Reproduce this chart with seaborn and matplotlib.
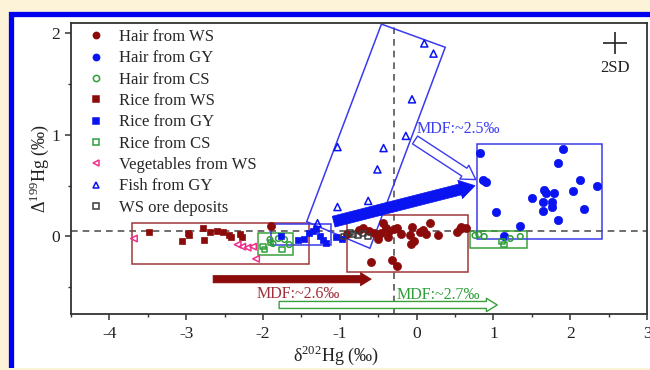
import numpy as np
import pandas as pd
import matplotlib
matplotlib.use('Agg')
import matplotlib.pyplot as plt
import seaborn as sns
from matplotlib.patches import Rectangle, Polygon, FancyArrowPatch
from matplotlib.lines import Line2D
from matplotlib.ticker import MultipleLocator

# ---------------- data ----------------
hair_ws_x = [-1.90, -0.90, -0.75, -0.70, -0.62, -0.55, -0.50, -0.47, -0.44, -0.40, -0.37,
             -0.36, -0.30, -0.26, -0.20, -0.09, -0.07, -0.06, -0.03, 0.04, 0.08, 0.12,
             0.18, 0.28, 0.52, 0.56, 0.58, 0.64, -0.59, -0.32, -0.26]
hair_ws_y = [0.10, 0.02, 0.06, 0.08, 0.05, 0.03, -0.02, 0.03, 0.13, 0.08, -0.01,
             0.05, 0.07, 0.08, 0.02, 0.01, -0.07, 0.09, -0.04, 0.04, 0.06, 0.02,
             0.13, 0.01, 0.04, 0.07, 0.09, 0.08, -0.25, -0.23, -0.29]

hair_gy_x = [0.82, 0.86, 0.90, 1.03, 1.14, 1.35, 1.50, 1.64, 1.65, 1.66, 1.69, 1.76,
             1.76, 1.79, 1.84, 1.84, 1.90, 2.03, 2.13, 2.18, 2.35]
hair_gy_y = [0.82, 0.56, 0.54, 0.24, 0.00, 0.10, 0.38, 0.25, 0.34, 0.46, 0.43, 0.34,
             0.29, 0.43, 0.16, 0.72, 0.86, 0.45, 0.56, 0.27, 0.50]

hair_cs_x = [-1.91, -1.87, -1.80, -1.72, -1.66, 0.76, 0.81, 0.88, 1.22, 1.35]
hair_cs_y = [-0.03, -0.07, -0.02, -0.03, -0.08, 0.01, 0.02, 0.00, -0.02, 0.00]

rice_ws_x = [-3.49, -3.05, -2.98, -2.96, -2.78, -2.77, -2.69, -2.60, -2.52, -2.44,
             -2.42, -2.30, -2.27]
rice_ws_y = [0.04, -0.04, 0.03, 0.01, 0.08, -0.03, 0.04, 0.05, 0.04, 0.01,
             -0.01, 0.02, -0.01]

rice_gy_x = [-1.76, -1.55, -1.47, -1.40, -1.35, -1.31, -1.26, -1.22, -1.18, -1.05, -0.97]
rice_gy_y = [0.00, -0.03, -0.02, 0.03, 0.05, 0.07, 0.00, -0.03, -0.06, -0.01, -0.02]

rice_cs_x = [-2.00, -1.98, -1.90, -1.75, 1.11, 1.14]
rice_cs_y = [-0.10, -0.13, -0.06, -0.13, -0.05, -0.08]

veg_ws_x = [-3.68, -2.33, -2.27, -2.20, -2.13, -2.09]
veg_ws_y = [-0.02, -0.08, -0.10, -0.11, -0.10, -0.22]

fish_gy_x = [0.10, 0.22, -0.06, -0.14, -1.03, -0.43, -0.51, -0.63, -1.03, -1.29]
fish_gy_y = [1.90, 1.80, 1.35, 0.99, 0.88, 0.87, 0.66, 0.35, 0.29, 0.13]

ore_ws_x = [-0.95, -0.87, -0.83, -0.76, -0.70, -0.63]
ore_ws_y = [0.00, 0.04, 0.02, 0.01, 0.03, 0.00]

group_labels = ["Hair from WS", "Hair from GY", "Hair from CS", "Rice from WS",
                "Rice from GY", "Rice from CS", "Vegetables from WS", "Fish from GY",
                "WS ore deposits"]

# annotation boxes: (x0, x1, y0, y1)
box_red_1 = (-3.71, -1.40, -0.27, 0.13)
box_red_2 = (-0.90, 0.67, -0.35, 0.21)
box_green_1 = (-2.06, -1.61, -0.18, 0.03)
box_green_2 = (0.70, 1.44, -0.11, 0.05)
box_blue_1 = (-1.90, -1.12, -0.08, 0.12)
box_blue_2 = (0.78, 2.41, -0.02, 0.91)
fish_box_x = [-0.458, 0.373, -0.608, -1.431]
fish_box_y = [2.09, 1.862, -0.116, 0.146]

ref_h = 0.05
ref_v = -0.29
sd_x, sd_y, sd_dx, sd_dy = 2.58, 1.905, 0.155, 0.11

# ---------------- style ----------------
sns.set_style('ticks')
plt.rcParams['font.family'] = ['Liberation Serif', 'DejaVu Serif']
plt.rcParams['mathtext.fontset'] = 'custom'
plt.rcParams['mathtext.rm'] = 'Liberation Serif'
plt.rcParams['axes.unicode_minus'] = False

DRED = '#8B0A0A'
BLUE = '#0A14F0'
GREEN = '#2E9E3A'
PINK = '#F0308C'
GRAY = '#3A3A3A'
BOXRED = '#A0383A'
BOXBLUE = '#3A3AEE'
BOXGREEN = '#3AA03A'

fig = plt.figure(figsize=(6.5, 3.7), dpi=100, facecolor='#FDF3D8')
frame = Rectangle((11 / 650, -0.2), 1.2, 0.2 + (370 - 13.5) / 370,
                  transform=fig.transFigure, facecolor='white',
                  edgecolor='#0000F0', lw=3.8, zorder=-2)
fig.add_artist(frame)
fig.add_artist(Rectangle((0, 0), 1, 2 / 370, transform=fig.transFigure,
                         facecolor='#FDF3D8', edgecolor='none', zorder=-1))

ax = fig.add_axes([71 / 650, 56 / 370, 576 / 650, 291.3 / 370])
ax.set_facecolor('none')

xs = [hair_ws_x, hair_gy_x, hair_cs_x, rice_ws_x, rice_gy_x, rice_cs_x, veg_ws_x, fish_gy_x, ore_ws_x]
ys = [hair_ws_y, hair_gy_y, hair_cs_y, rice_ws_y, rice_gy_y, rice_cs_y, veg_ws_y, fish_gy_y, ore_ws_y]
df = pd.concat([pd.DataFrame({'x': x, 'y': y, 'group': g})
                for x, y, g in zip(xs, ys, group_labels)], ignore_index=True)

styles = {
    "Hair from WS": dict(marker='o', color=DRED, filled=True, s=34),
    "Hair from GY": dict(marker='o', color=BLUE, filled=True, s=36),
    "Hair from CS": dict(marker='o', color=GREEN, filled=False, s=16),
    "Rice from WS": dict(marker='s', color=DRED, filled=True, s=24),
    "Rice from GY": dict(marker='s', color=BLUE, filled=True, s=24),
    "Rice from CS": dict(marker='s', color=GREEN, filled=False, s=16),
    "Vegetables from WS": dict(marker='<', color=PINK, filled=False, s=22),
    "Fish from GY": dict(marker='^', color=BLUE, filled=False, s=26),
    "WS ore deposits": dict(marker='s', color=GRAY, filled=False, s=16),
}

# boxes
for (x0, x1, y0, y1), c in [(box_red_1, BOXRED), (box_red_2, BOXRED),
                            (box_green_1, BOXGREEN), (box_green_2, BOXGREEN),
                            (box_blue_1, BOXBLUE), (box_blue_2, BOXBLUE)]:
    ax.add_patch(Rectangle((x0, y0), x1 - x0, y1 - y0, fill=False, ec=c, lw=1.1, zorder=2))
ax.add_patch(Polygon(list(zip(fish_box_x, fish_box_y)), closed=True, fill=False,
                     ec=BOXBLUE, lw=1.1, zorder=2))

ax.axhline(ref_h, ls=(0, (4, 3)), color='#555555', lw=1.2, zorder=1)
ax.axvline(ref_v, ls=(0, (4, 3)), color='#555555', lw=1.2, zorder=1)

for g in group_labels:
    st = styles[g]
    sub = df[df['group'] == g]
    sns.scatterplot(data=sub, x='x', y='y', marker=st['marker'], s=st['s'],
                    color=st['color'], ax=ax, legend=False, zorder=4, linewidth=0)
    coll = ax.collections[-1]
    if st['filled']:
        coll.set_facecolor(st['color'])
        coll.set_edgecolor(st['color'])
        coll.set_linewidth(0.5)
    else:
        coll.set_facecolor('none')
        coll.set_edgecolor(st['color'])
        coll.set_linewidth(1.1)

# arrows
ax.add_patch(FancyArrowPatch((-1.08, 0.146), (0.76, 0.50),
                             arrowstyle='simple,tail_width=0.4,head_width=0.68,head_length=0.55',
                             mutation_scale=20, fc=BLUE, ec=BLUE, lw=0.5,
                             shrinkA=0, shrinkB=0, zorder=5))
ax.add_patch(FancyArrowPatch((-0.02, 0.95), (0.77, 0.56),
                             arrowstyle='simple,tail_width=0.48,head_width=0.85,head_length=0.7',
                             mutation_scale=14, fc='white', ec=BOXBLUE, lw=1.0,
                             shrinkA=0, shrinkB=0, zorder=5))
ax.add_patch(FancyArrowPatch((-2.65, -0.42), (-0.59, -0.42),
                             arrowstyle='simple,tail_width=0.45,head_width=0.8,head_length=0.65',
                             mutation_scale=12, fc=DRED, ec=DRED, lw=0.5,
                             shrinkA=0, shrinkB=0, zorder=5))
ax.add_patch(FancyArrowPatch((-1.79, -0.674), (1.05, -0.674),
                             arrowstyle='simple,tail_width=0.42,head_width=0.8,head_length=0.65',
                             mutation_scale=12, fc='white', ec=BOXGREEN, lw=1.0,
                             shrinkA=0, shrinkB=0, zorder=5))

ax.text(0.0, 1.06, 'MDF:~2.5‰', color='#3C3CF0', fontsize=11.5, ha='left', va='center', zorder=6)
ax.text(-2.08, -0.57, 'MDF:~2.6‰', color='#A0303A', fontsize=11.5, ha='left', va='center', zorder=6)
ax.text(-0.26, -0.575, 'MDF:~2.7‰', color='#2E9E3A', fontsize=11.5, ha='left', va='center', zorder=6)

# 2SD cross
ax.errorbar([sd_x], [sd_y], xerr=[sd_dx], yerr=[sd_dy], fmt='none', ecolor='#222222',
            elinewidth=1.2, capsize=0, zorder=6)
ax.text(sd_x, 1.66, '2SD', fontsize=12, ha='center', va='center', color='#222222')

ax.set_xlim(-4.5, 3.0)
ax.set_ylim(-0.763, 2.104)
ax.xaxis.set_major_locator(MultipleLocator(1))
ax.xaxis.set_minor_locator(MultipleLocator(0.5))
ax.yaxis.set_major_locator(MultipleLocator(1))
ax.yaxis.set_minor_locator(MultipleLocator(0.5))
ax.tick_params(which='major', direction='out', length=4, width=1.1, color='#333333',
               labelsize=12.5, labelcolor='#222222', pad=4)
ax.tick_params(axis='x', which='major', pad=5)
ax.tick_params(which='minor', direction='out', length=2.5, width=1.0, color='#333333')
for sp in ax.spines.values():
    sp.set_visible(True)
    sp.set_color('#333333')
    sp.set_linewidth(1.3)

ax.set_xlabel('δ$^{202}$Hg (‰)', fontsize=13, color='#222222')
ax.set_ylabel('Δ$^{199}$Hg (‰)', fontsize=13, color='#222222', labelpad=0)
ax.xaxis.set_label_coords(0.46, -0.102)

handles = []
for g in group_labels:
    st = styles[g]
    handles.append(Line2D([], [], ls='none', marker=st['marker'], markersize=4.5,
                          markerfacecolor=st['color'] if st['filled'] else 'none',
                          markeredgecolor=st['color'], markeredgewidth=1.1))
ax.legend(handles, group_labels, loc='upper left', bbox_to_anchor=(0.029, 0.978),
          frameon=False, fontsize=12, handlelength=1.0, handletextpad=0.9,
          labelspacing=0.32, borderpad=0, borderaxespad=0)

fig.savefig('out.png', dpi=100, facecolor=fig.get_facecolor())
